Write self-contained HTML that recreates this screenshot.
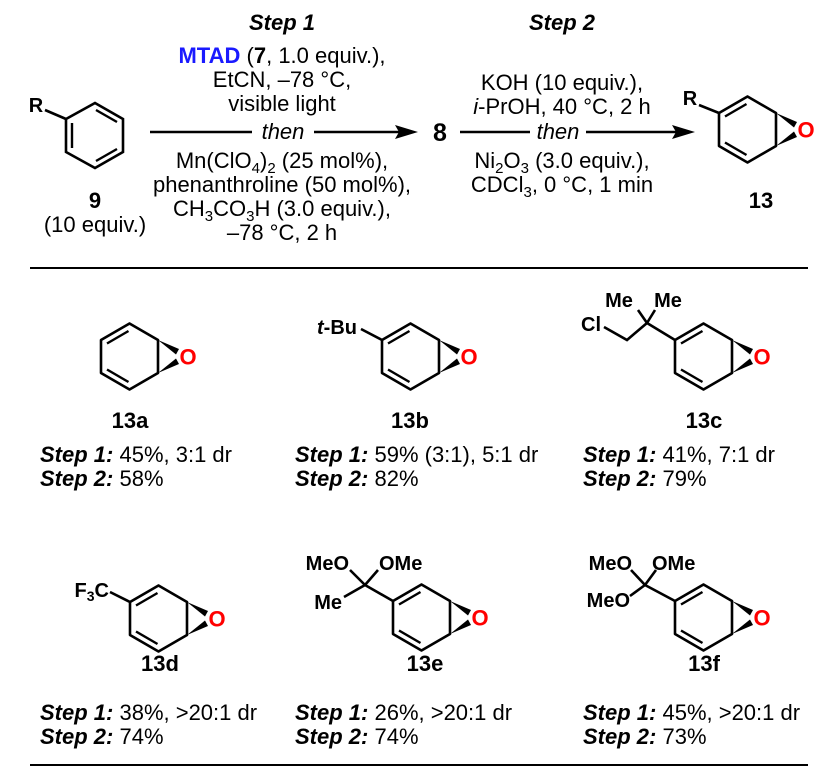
<!DOCTYPE html>
<html><head><meta charset="utf-8"><style>
html,body{margin:0;padding:0;background:#fff;}
svg{display:block;}
text{font-family:"Liberation Sans",sans-serif;fill:#000;}
.b{font-weight:bold;}
.i{font-style:italic;}
.c{text-anchor:middle;}
</style></head><body>
<svg width="838" height="771" viewBox="0 0 838 771" xmlns="http://www.w3.org/2000/svg">
<defs>
<g id="ep">
<path d="M57,0 L28.5,-16.5 L0,0 L0,33 L28.5,49.5 L57,33 Z" fill="none" stroke="#000" stroke-width="2.6" stroke-linejoin="round"/>
<line x1="6" y1="3.5" x2="27.5" y2="-9" stroke="#000" stroke-width="2.4"/>
<line x1="6" y1="29.5" x2="27.5" y2="42" stroke="#000" stroke-width="2.4"/>
<polygon points="57,0 78,9 75,14.5" fill="#000"/>
<polygon points="57,33 78,24 75,18.5" fill="#000"/>
<text x="87" y="24.5" class="c b" font-size="22" style="fill:#f00">O</text>
</g>
</defs>
<g font-size="22">
<!-- benzene 9 -->
<path d="M95,103 L123,119 L123,152 L95,168 L66,152 L66,119 Z" fill="none" stroke="#000" stroke-width="2.6"/>
<line x1="72" y1="123" x2="72" y2="148" stroke="#000" stroke-width="2.4"/>
<line x1="96" y1="110" x2="117" y2="122" stroke="#000" stroke-width="2.4"/>
<line x1="96" y1="161" x2="117" y2="149" stroke="#000" stroke-width="2.4"/>
<line x1="45" y1="110" x2="66" y2="119" stroke="#000" stroke-width="2.6"/>
<text x="36" y="112" class="c b" font-size="20">R</text>
<text x="95" y="208" class="c b">9</text>
<text x="95" y="232" class="c">(10 equiv.)</text>

<!-- step 1 -->
<text x="282" y="30" class="c b i">Step 1</text>
<text x="282" y="63" class="c"><tspan class="b" style="fill:#1a1aff">MTAD</tspan> (<tspan class="b">7</tspan>, 1.0 equiv.),</text>
<text x="282" y="87" class="c">EtCN, –78 °C,</text>
<text x="282" y="111" class="c">visible light</text>
<line x1="150" y1="132" x2="252" y2="132" stroke="#000" stroke-width="2.6"/>
<line x1="314" y1="132" x2="400" y2="132" stroke="#000" stroke-width="2.6"/>
<polygon points="418,132 395,125 399,132 395,139" fill="#000"/>
<text x="283" y="139" class="c i">then</text>
<text x="282" y="168" class="c">Mn(ClO<tspan font-size="15" dy="5">4</tspan><tspan dy="-5">)</tspan><tspan font-size="15" dy="5">2</tspan><tspan dy="-5"> (25 mol%),</tspan></text>
<text x="282" y="192" class="c">phenanthroline (50 mol%),</text>
<text x="282" y="216" class="c">CH<tspan font-size="15" dy="5">3</tspan><tspan dy="-5">CO</tspan><tspan font-size="15" dy="5">3</tspan><tspan dy="-5">H (3.0 equiv.),</tspan></text>
<text x="282" y="240" class="c">–78 °C, 2 h</text>

<text x="440" y="141" class="c b" font-size="25">8</text>

<!-- step 2 -->
<text x="562" y="30" class="c b i">Step 2</text>
<text x="562" y="90" class="c">KOH (10 equiv.),</text>
<text x="562" y="114" class="c"><tspan class="i">i</tspan>-PrOH, 40 °C, 2 h</text>
<line x1="460" y1="132" x2="530" y2="132" stroke="#000" stroke-width="2.6"/>
<line x1="586" y1="132" x2="677" y2="132" stroke="#000" stroke-width="2.6"/>
<polygon points="695,132 672,125 676,132 672,139" fill="#000"/>
<text x="558" y="139" class="c i">then</text>
<text x="562" y="168" class="c">Ni<tspan font-size="15" dy="5">2</tspan><tspan dy="-5">O</tspan><tspan font-size="15" dy="5">3</tspan><tspan dy="-5"> (3.0 equiv.),</tspan></text>
<text x="562" y="192" class="c">CDCl<tspan font-size="15" dy="5">3</tspan><tspan dy="-5">, 0 °C, 1 min</tspan></text>

<!-- product 13 -->
<use href="#ep" x="719" y="113"/>
<line x1="699" y1="105" x2="719" y2="113" stroke="#000" stroke-width="2.6"/>
<text x="690" y="105" class="c b" font-size="20">R</text>
<text x="761" y="208" class="c b">13</text>

<line x1="30" y1="268" x2="808" y2="268" stroke="#000" stroke-width="2"/>

<!-- 13a -->
<use href="#ep" x="101" y="340"/>
<text x="130" y="428" class="c b">13a</text>
<text x="40" y="462"><tspan class="b i">Step 1:</tspan> 45%, 3:1 dr</text>
<text x="40" y="486"><tspan class="b i">Step 2:</tspan> 58%</text>

<!-- 13b -->
<use href="#ep" x="382" y="340"/>
<line x1="361" y1="329" x2="382" y2="340" stroke="#000" stroke-width="2.6"/>
<text x="357" y="334" font-size="20" class="b" text-anchor="end"><tspan class="i">t</tspan>-Bu</text>
<text x="410" y="428" class="c b">13b</text>
<text x="295" y="462"><tspan class="b i">Step 1:</tspan> 59% (3:1), 5:1 dr</text>
<text x="295" y="486"><tspan class="b i">Step 2:</tspan> 82%</text>

<!-- 13c -->
<use href="#ep" x="675" y="340"/>
<path d="M604,327 L627,340 L647,323 L675,340 M647,323 L638,310 M647,323 L655,310" fill="none" stroke="#000" stroke-width="2.6"/>
<text x="591" y="331" class="c b" font-size="20">Cl</text>
<text x="619" y="307" class="c b" font-size="20">Me</text>
<text x="668" y="307" class="c b" font-size="20">Me</text>
<text x="704" y="428" class="c b">13c</text>
<text x="583" y="462"><tspan class="b i">Step 1:</tspan> 41%, 7:1 dr</text>
<text x="583" y="486"><tspan class="b i">Step 2:</tspan> 79%</text>

<!-- 13d -->
<use href="#ep" x="130" y="602"/>
<line x1="110" y1="592" x2="130" y2="602" stroke="#000" stroke-width="2.6"/>
<text x="109" y="597" class="b" font-size="20" text-anchor="end">F<tspan font-size="14" dy="4">3</tspan><tspan dy="-4">C</tspan></text>
<text x="160" y="671" class="c b">13d</text>
<text x="40" y="720"><tspan class="b i">Step 1:</tspan> 38%, &gt;20:1 dr</text>
<text x="40" y="744"><tspan class="b i">Step 2:</tspan> 74%</text>

<!-- 13e -->
<use href="#ep" x="393" y="601"/>
<path d="M365,585 L393,601 M365,585 L350,570 M365,585 L378,570 M365,585 L344,597" fill="none" stroke="#000" stroke-width="2.6"/>
<text x="349" y="570" class="b" font-size="20" text-anchor="end">MeO</text>
<text x="379" y="570" class="b" font-size="20">OMe</text>
<text x="342" y="609" class="b" font-size="20" text-anchor="end">Me</text>
<text x="425" y="671" class="c b">13e</text>
<text x="295" y="720"><tspan class="b i">Step 1:</tspan> 26%, &gt;20:1 dr</text>
<text x="295" y="744"><tspan class="b i">Step 2:</tspan> 74%</text>

<!-- 13f -->
<use href="#ep" x="675" y="601"/>
<path d="M645,585 L675,601 M645,585 L631,570 M645,585 L656,570 M645,585 L630,596" fill="none" stroke="#000" stroke-width="2.6"/>
<text x="632" y="570" class="b" font-size="20" text-anchor="end">MeO</text>
<text x="652" y="570" class="b" font-size="20">OMe</text>
<text x="630" y="607" class="b" font-size="20" text-anchor="end">MeO</text>
<text x="704" y="671" class="c b">13f</text>
<text x="583" y="720"><tspan class="b i">Step 1:</tspan> 45%, &gt;20:1 dr</text>
<text x="583" y="744"><tspan class="b i">Step 2:</tspan> 73%</text>

<line x1="30" y1="765" x2="808" y2="765" stroke="#000" stroke-width="2"/>
</g>
</svg>
</body></html>
